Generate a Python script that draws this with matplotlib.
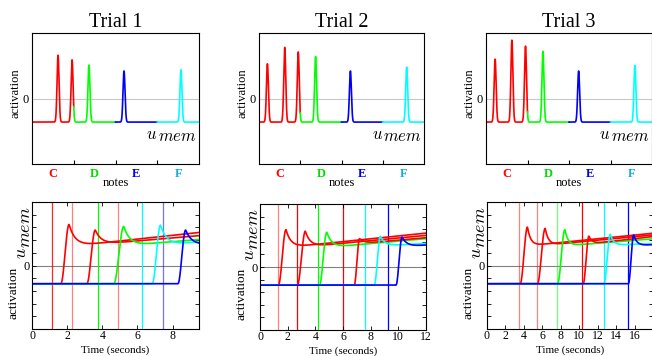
import numpy as np
import matplotlib
matplotlib.use('Agg')
import matplotlib.pyplot as plt

plt.rcParams['font.family'] = 'Liberation Serif'
plt.rcParams['mathtext.fontset'] = 'cm'

W, H = 652, 356

trials = ['Trial 1', 'Trial 2', 'Trial 3']
note_names = ['C', 'D', 'E', 'F']
note_colors = ['#ff0000', '#00ff00', '#0000ff', '#00ffff']
note_label_colors = ['#ff0000', '#00dd00', '#0000ee', '#10aaf0']

# top row: u_mem over the note axis (0-100, one quarter per note)
peak_pos = [
    [15.6, 24.0, 34.1, 55.1, 89.2],
    [5.1, 15.6, 23.8, 34.3, 55.4, 89.5],
    [5.5, 15.6, 23.8, 34.3, 55.8, 89.7],
]
peak_height = [
    [6.6, 5.9, 5.1, 4.2, 4.4],
    [5.3, 7.8, 7.1, 6.4, 4.2, 4.8],
    [6.0, 8.9, 8.0, 7.2, 4.2, 5.05],
]
top_rest = -3.6

# bottom row: activation of each memory node over time
t_max = [9.5, 12, 18]
tick_max = [8, 12, 16]
stim_times = [
    [1.16, 2.25, 3.75, 4.9, 6.23, 7.43],
    [1.28, 2.66, 4.22, 5.97, 7.56, 9.25],
    [3.52, 5.4, 7.58, 10.33, 12.65, 15.26],
]
stim_notes = [
    [0, 0, 1, 0, 3, 2],
    [0, 0, 1, 0, 3, 2],
    [0, 0, 1, 0, 3, 2],
]
stim_alpha = [
    [0.85, 0.5, 1, 0.5, 1, 0.55],
    [0.5, 1, 1, 1, 1, 1],
    [0.5, 0.5, 0.55, 1, 1, 1],
]
curve_notes = [
    [0, 0, 1, 3, 2],
    [0, 0, 1, 0, 3, 2],
    [0, 0, 1, 0, 3, 2],
]
onset = [
    [1.64, 3.12, 4.65, 6.84, 8.3],
    [1.33, 2.7, 4.3, 6.81, 8.26, 9.83],
    [3.6, 5.47, 7.65, 10.43, 12.68, 15.33],
]
t_peak = [
    [2.11, 3.6, 5.22, 7.31, 8.74],
    [1.88, 3.28, 4.83, 7.2, 8.7, 10.27],
    [4.39, 6.31, 8.45, 11.05, 13.37, 15.91],
]
u_peak = [
    [3.23, 2.79, 3.08, 3.18, 2.79],
    [2.97, 2.84, 2.76, 2.25, 2.43, 2.38],
    [3.02, 2.92, 2.82, 2.31, 2.46, 2.41],
]
u_settle = [
    [1.5, 1.65, 1.55, 1.6, 1.6],
    [1.55, 1.6, 1.55, 1.85, 1.65, 1.6],
    [1.55, 1.6, 1.55, 1.7, 1.6, 1.55],
]
u_end = [
    [2.6, 2.35, 2.05, 1.85, 1.63],
    [2.69, 2.51, 2.25, 2.33, 1.87, 1.74],
    [2.54, 2.41, 2.1, 2.28, 1.72, 1.64],
]
bottom_rest = -1.44

top_boxes = [(32, 199, 33, 164), (259, 424, 33, 164), (486, 652, 33, 164)]
bottom_boxes = [(32, 199, 202, 329), (260, 426, 204, 330), (487, 653, 202, 329)]


def rect(box):
    l, r, t, b = box
    return [l / W, 1 - b / H, (r - l) / W, (b - t) / H]


def trace(t, t_on, t_pk, u_pk, u_set, u_fin, T):
    u = np.full_like(t, bottom_rest)
    rise = (t >= t_on) & (t < t_pk)
    s = (t[rise] - t_on) / (t_pk - t_on)
    u[rise] = bottom_rest + (u_pk - bottom_rest) * (1 - np.cos(np.pi * s)) / 2
    after = t >= t_pk
    floor = u_set + (u_fin - u_set) * (t[after] - t_pk) / (T - t_pk)
    u[after] = floor + (u_pk - u_set) * np.exp(-(t[after] - t_pk) / 0.35)
    return u


fig = plt.figure(figsize=(W / 100, H / 100), dpi=100)

for k in range(3):
    # ---- top: field over notes
    ax = fig.add_axes(rect(top_boxes[k]))
    x = np.linspace(0, 100, 4001)
    y = np.full_like(x, top_rest)
    for p, h in zip(peak_pos[k], peak_height[k]):
        y += (h - top_rest) * np.exp(-(x - p) ** 2 / (2 * 0.6 ** 2))
    for i in range(4):
        m = (x >= 25 * i) & (x <= 25 * (i + 1))
        ax.plot(x[m], y[m], color=note_colors[i], lw=1.2)
    ax.axhline(0, color='#c8c8c8', lw=0.8, zorder=0)
    ax.set_xlim(0, 100)
    ax.set_ylim(-10, 10)
    ax.set_yticks([0])
    ax.set_yticklabels(['0'], fontsize=9)
    ax.tick_params(axis='y', length=0, pad=2)
    ax.set_xticks([12.5, 37.5, 62.5, 87.5])
    ax.set_xticklabels(note_names, fontsize=9, fontweight='bold')
    for lab, c in zip(ax.get_xticklabels(), note_label_colors):
        lab.set_color(c)
    ax.tick_params(axis='x', length=0, pad=3)
    ax.set_xticks([25, 50, 75], minor=True)
    ax.tick_params(axis='x', which='minor', direction='in', length=3, width=0.8)
    ax.text(-0.097, 0.542, 'activation', rotation=90, transform=ax.transAxes,
            ha='center', va='center', fontsize=9)
    ax.text(0.5, -0.168, 'notes', transform=ax.transAxes, ha='center',
            va='baseline', fontsize=9)
    ax.text(0.716, 0.189, r'$u$', transform=ax.transAxes, ha='center',
            va='baseline', fontsize=12)
    ax.text(0.871, 0.178, r'$mem$', transform=ax.transAxes, ha='center',
            va='baseline', fontsize=12)
    ax.set_title(trials[k], fontsize=14.5, pad=4)

    # ---- bottom: activation over time
    ax = fig.add_axes(rect(bottom_boxes[k]))
    T = t_max[k]
    for ts, n, a in zip(stim_times[k], stim_notes[k], stim_alpha[k]):
        ax.axvline(ts, color=note_colors[n], alpha=a, lw=0.9, zorder=1)
    t = np.linspace(0, T, 3000)
    for j in range(len(onset[k])):
        u = trace(t, onset[k][j], t_peak[k][j], u_peak[k][j],
                  u_settle[k][j], u_end[k][j], T)
        ax.plot(t, u, color=note_colors[curve_notes[k][j]], lw=1.2, zorder=2)
    ax.axhline(0, color='#808080', lw=0.8, zorder=0)
    ax.set_xlim(0, T)
    ax.set_ylim(-5, 5)
    ax.set_xticks(np.arange(0, tick_max[k] + 1, 2))
    ax.set_yticks(np.arange(-5, 6, 1))
    ax.set_yticklabels(['0' if v == 0 else '' for v in range(-5, 6)])
    ax.tick_params(direction='in', top=True, right=True, length=3, width=0.6,
                   labelsize=8.5, pad=1)
    ax.tick_params(axis='y', labelsize=9, pad=1.5)
    ax.text(0.5, -0.187, 'Time (seconds)', transform=ax.transAxes,
            ha='center', va='baseline', fontsize=8)
    ax.text(-0.111, 0.286, 'activation', rotation=90, transform=ax.transAxes,
            ha='center', va='center', fontsize=9.5)
    ax.text(-0.062, 0.595, r'$u$', rotation=90, transform=ax.transAxes,
            ha='center', va='center', fontsize=13)
    ax.text(-0.04, 0.8, r'$mem$', rotation=90, transform=ax.transAxes,
            ha='center', va='center', fontsize=13)

fig.savefig('out.png', dpi=100)
